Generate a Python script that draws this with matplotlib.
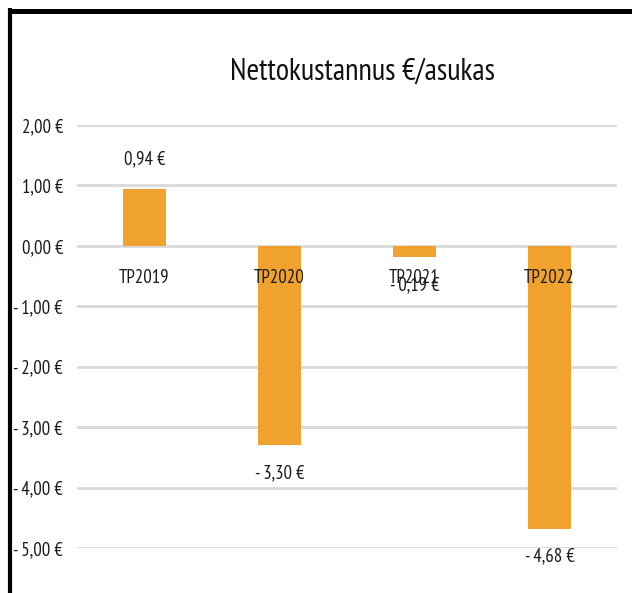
import matplotlib
matplotlib.use("Agg")
import matplotlib.pyplot as plt

plt.rcParams['font.family'] = ['PT Sans Narrow', 'Carlito', 'DejaVu Sans']

categories = ["TP2019", "TP2020", "TP2021", "TP2022"]
values = [0.94, -3.30, -0.19, -4.68]
yticks = [2, 1, 0, -1, -2, -3, -4, -5]
title = "Nettokustannus €/asukas"

def fmt(v):
    s = f"{abs(v):.2f}".replace(".", ",") + " €"
    return ("- " + s) if v < 0 else s

W, H = 632, 593
fig = plt.figure(figsize=(W / 100, H / 100), dpi=100)
fig.patch.set_facecolor("white")

x0, x1 = 77, 617
ytop, ybot = 125, 548
ax = fig.add_axes([x0 / W, 1 - ybot / H, (x1 - x0) / W, (ybot - ytop) / H])
ax.set_xlim(-0.5, len(categories) - 0.5)
ax.set_ylim(-5, 2)
ax.set_yticks(yticks)
ax.yaxis.grid(True, color="#D9D9D9", linewidth=2)
ax.set_axisbelow(True)
for s in ax.spines.values():
    s.set_visible(False)
ax.set_xticks([])
ax.set_yticklabels([fmt(v) if v != 0 else "0,00 €" for v in yticks], fontsize=13.5, color="#1a1a1a")
ax.tick_params(axis="y", length=0, pad=10)

xs = list(range(len(categories)))
ax.bar(xs, values, width=0.32, color="#F0A22E", zorder=2)

for x, v, c in zip(xs, values, categories):
    ax.text(x, -0.54, c, ha="center", va="center", fontsize=13.5, color="#1a1a1a", zorder=3)
    if v >= 0:
        ax.text(x, v + 0.5, fmt(v), ha="center", va="center", fontsize=13.5, color="#1a1a1a", zorder=3)
    else:
        ax.text(x, v - 0.46, fmt(v), ha="center", va="center", fontsize=13.5, color="#1a1a1a", zorder=3, clip_on=False)

fig.text(362 / W, 1 - 72 / H, title, ha="center", va="center", fontsize=22, color="#111111")

# outer border (top and left)
fig.add_artist(plt.Line2D([8 / W, 1], [1 - 10.5 / H, 1 - 10.5 / H], color="black", linewidth=3.6, transform=fig.transFigure, solid_capstyle="butt"))
fig.add_artist(plt.Line2D([10 / W, 10 / W], [1 - 8 / H, 0], color="black", linewidth=3.0, transform=fig.transFigure, solid_capstyle="butt"))

fig.savefig("out.png", dpi=100)
